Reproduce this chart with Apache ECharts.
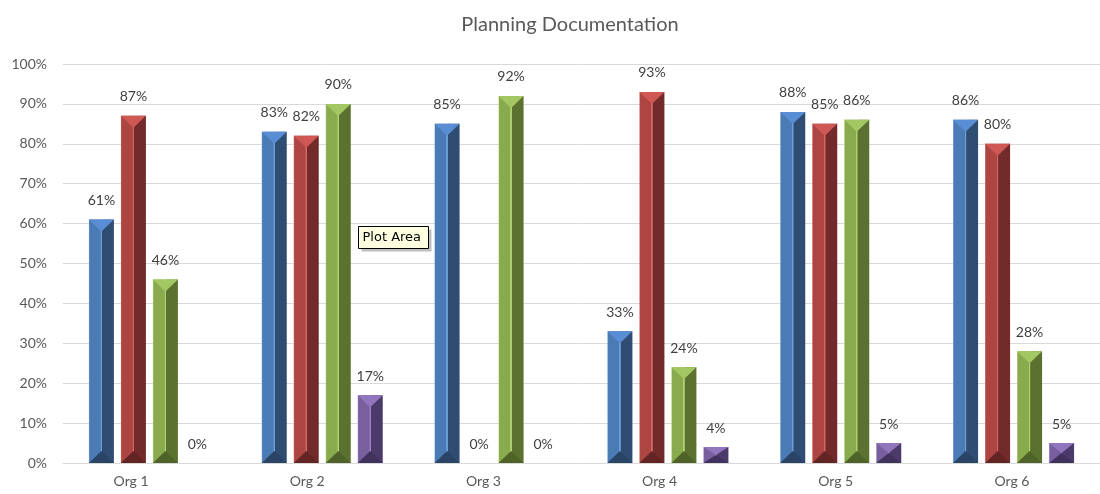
<!DOCTYPE html>
<html>
<head>
<meta charset="utf-8">
<script src="https://cdn.jsdelivr.net/npm/echarts@6/dist/echarts.min.js"></script>
<style>html,body{margin:0;padding:0;background:#fff}#c{width:1100px;height:494px}</style>
</head>
<body>
<div id="c"></div>
<script>
const categories = ['Org 1', 'Org 2', 'Org 3', 'Org 4', 'Org 5', 'Org 6'];
const seriesNames = ['Series 1', 'Series 2', 'Series 3', 'Series 4'];
const blueValues = [61, 83, 85, 33, 88, 86];
const redValues = [87, 82, 0, 93, 85, 80];
const greenValues = [46, 90, 92, 24, 86, 28];
const purpleValues = [0, 17, 0, 4, 5, 5];
const yTickLabels = ['0%', '10%', '20%', '30%', '40%', '50%', '60%', '70%', '80%', '90%', '100%'];

const palettes = [
  {base: '#4a7bb5', light: '#6f9ddb', dark: '#2f4c72', top: '#5a8ed4', bottom: '#2a4466'},
  {base: '#ad4542', light: '#d26663', dark: '#722b2a', top: '#cf5855', bottom: '#622524'},
  {base: '#8aaa4e', light: '#b0d070', dark: '#5b712f', top: '#a3c763', bottom: '#4f6328'},
  {base: '#785f9e', light: '#9c82c4', dark: '#4b3a6a', top: '#9276bd', bottom: '#41325d'}
];
const FONT = 'Lato, "Open Sans", sans-serif';
const BAR_W = 25, BAR_GAP = 7;

function barColor(p) {
  return {
    type: 'linear', x: 0, y: 0, x2: 1, y2: 0,
    colorStops: [
      {offset: 0, color: p.light},
      {offset: 0.04, color: p.base},
      {offset: 0.46, color: p.base},
      {offset: 0.48, color: p.light},
      {offset: 0.52, color: p.light},
      {offset: 0.54, color: p.dark},
      {offset: 1, color: p.dark}
    ]
  };
}

const allValues = [blueValues, redValues, greenValues, purpleValues];
const series = allValues.map((vals, i) => ({
  name: seriesNames[i],
  type: 'bar',
  xAxisIndex: 0,
  yAxisIndex: 0,
  data: vals,
  barWidth: BAR_W,
  barGap: (BAR_GAP / BAR_W * 100) + '%',
  z: 2,
  itemStyle: {color: barColor(palettes[i])},
  label: {
    show: true,
    position: 'top',
    distance: 12,
    formatter: p => p.value + '%',
    color: '#404040',
    fontFamily: FONT,
    fontSize: 14
  }
}));

// bevel overlays (top and bottom facets) positioned with the same scale
allValues.forEach((vals, i) => {
  const p = palettes[i];
  series.push({
    type: 'custom',
    xAxisIndex: 0,
    yAxisIndex: 0,
    silent: true,
    z: 3,
    data: vals.map((v, k) => [k, v]),
    renderItem: (params, api) => {
      const k = api.value(0), v = api.value(1);
      if (!v) return null;
      const base = api.coord([k, 0]);
      const top = api.coord([k, v]);
      const groupW = 4 * BAR_W + 3 * BAR_GAP;
      const cx = base[0] - groupW / 2 + BAR_W / 2 + i * (BAR_W + BAR_GAP);
      const x0 = cx - BAR_W / 2, x1 = cx + BAR_W / 2;
      const h = Math.min(12, (base[1] - top[1]) / 2);
      return {
        type: 'group',
        children: [
          {type: 'polygon', shape: {points: [[x0, top[1]], [x1, top[1]], [cx, top[1] + h]]}, style: {fill: p.top}},
          {type: 'polygon', shape: {points: [[x0, base[1]], [x1, base[1]], [cx, base[1] - h]]}, style: {fill: p.bottom}}
        ]
      };
    }
  });
});

const chart = echarts.init(document.getElementById('c'), null, {renderer: 'canvas'});
chart.setOption({
  animation: false,
  backgroundColor: '#ffffff',
  title: {
    text: 'Planning Documentation',
    left: 565, top: 10, textAlign: 'center',
    textStyle: {color: '#595959', fontFamily: FONT, fontSize: 20, fontWeight: 'normal'}
  },
  grid: [
    {left: 63, right: -11, top: 64, bottom: 31},
    {left: 43, right: -34, top: 64, bottom: 31}
  ],
  xAxis: [
    {
      gridIndex: 0, type: 'category', data: categories,
      axisLine: {show: true, lineStyle: {color: '#d9d9d9'}},
      axisTick: {show: false},
      axisLabel: {show: false}
    },
    {
      gridIndex: 1, type: 'category', data: categories,
      axisLine: {show: false}, axisTick: {show: false},
      axisLabel: {color: '#595959', fontFamily: FONT, fontSize: 14, margin: 11}
    }
  ],
  yAxis: [
    {
      gridIndex: 0, type: 'value', min: 0, max: 100, interval: 10,
      axisLine: {show: false}, axisTick: {show: false},
      splitLine: {lineStyle: {color: '#d9d9d9', width: 1}},
      axisLabel: {
        color: '#595959', fontFamily: FONT, fontSize: 14, margin: 16,
        formatter: v => yTickLabels[Math.round(v / 10)]
      }
    },
    {gridIndex: 1, type: 'value', min: 0, max: 1, show: false}
  ],
  series: series,
  graphic: [{
    type: 'group', left: 358, top: 226, z: 100,
    children: [
      {type: 'rect', shape: {x: 3, y: 3, width: 70, height: 22}, style: {fill: 'rgba(0,0,0,0.25)'}},
      {type: 'rect', shape: {x: 0, y: 0, width: 70, height: 22}, style: {fill: '#ffffe1', stroke: '#000', lineWidth: 1}},
      {type: 'text', style: {x: 4, y: 11, text: 'Plot Area', fill: '#000', font: '13px "DejaVu Sans", sans-serif', textVerticalAlign: 'middle'}}
    ]
  }]
});
</script>
</body>
</html>
